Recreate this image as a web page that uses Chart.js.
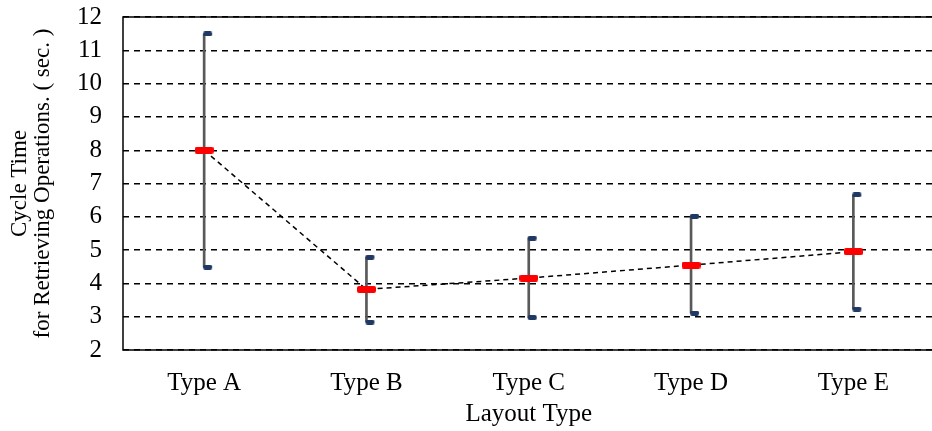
<!DOCTYPE html>
<html>
<head>
<meta charset="utf-8">
<script src="https://cdn.jsdelivr.net/npm/chart.js@4/dist/chart.umd.min.js"></script>
<style>
  html, body { margin: 0; padding: 0; background: #fff; overflow: hidden; }
  #wrap { width: 945px; height: 431px; position: relative; }
</style>
</head>
<body>
<div id="wrap"><canvas id="cycleChart"></canvas></div>
<script>
// layout types on the x axis
const categories = ['Type A', 'Type B', 'Type C', 'Type D', 'Type E'];
// average cycle time (sec.)
const meanVals = [8.0, 3.82, 4.16, 4.55, 4.95];
// lower / upper whisker ends
const minVals = [4.49, 2.84, 2.97, 3.11, 3.23];
const maxVals = [11.49, 4.79, 5.36, 6.02, 6.66];

const rangeVals = minVals.map((v, i) => [v, maxVals[i]]);

// marker images (cap sits to the right of the whisker)
function makeMarker(w, h, color, offsetRight) {
    const c = document.createElement('canvas');
    c.width = offsetRight ? w * 2 : w;
    c.height = h;
    const g = c.getContext('2d');
    g.fillStyle = color;
    const x0 = offsetRight ? w - 1 : 0;
    g.beginPath();
    g.roundRect(x0, 0, w, h, 2);
    g.fill();
    return c;
}
const meanMarker = makeMarker(19, 7, '#ff0000', false);
const capMarker = makeMarker(9, 5, '#1f3864', true);

// frame round the plot area
const frame = {
    id: 'frame',
    afterDatasetsDraw(chart) {
        const { ctx, chartArea: { left, top, right, bottom } } = chart;
        ctx.save();
        ctx.strokeStyle = '#000';
        ctx.lineWidth = 1.5;
        ctx.setLineDash([]);
        ctx.strokeRect(left, top, right - left, bottom - top);
        ctx.restore();
    }
};

const serif = 'Liberation Serif';

new Chart(document.getElementById('cycleChart'), {
    data: {
        labels: categories,
        datasets: [
            {
                type: 'line',
                label: 'mean',
                data: meanVals,
                borderColor: '#000',
                borderWidth: 1.5,
                borderDash: [5, 4],
                pointStyle: meanMarker,
                pointRadius: 9,
                order: 0
            },
            {
                type: 'line',
                label: 'max',
                data: maxVals,
                showLine: false,
                pointStyle: capMarker,
                pointRadius: 9,
                order: 1
            },
            {
                type: 'line',
                label: 'min',
                data: minVals,
                showLine: false,
                pointStyle: capMarker,
                pointRadius: 9,
                order: 1
            },
            {
                type: 'bar',
                label: 'range',
                data: rangeVals,
                backgroundColor: '#595959',
                barThickness: 2,
                order: 2
            }
        ]
    },
    options: {
        responsive: true,
        maintainAspectRatio: false,
        animation: false,
        layout: { padding: { top: 17, right: 2, left: 8, bottom: 2 } },
        plugins: {
            legend: { display: false },
            tooltip: { enabled: false }
        },
        scales: {
            x: {
                offset: true,
                grid: { display: false, drawTicks: false },
                border: { display: false },
                ticks: { color: '#000', font: { family: serif, size: 25 }, padding: 18 },
                title: {
                    display: true,
                    text: 'Layout Type',
                    color: '#000',
                    font: { family: serif, size: 25 },
                    padding: { top: 0, bottom: 0 }
                },
                afterFit(scale) { scale.height = 79; }
            },
            y: {
                min: 2,
                max: 12,
                grid: { color: '#000', lineWidth: 1.4, drawTicks: false },
                border: { display: false, dash: [6, 5] },
                ticks: { stepSize: 1, autoSkip: false, color: '#000', font: { family: serif, size: 25 }, padding: 21 },
                title: {
                    display: true,
                    text: ['Cycle Time', 'for Retrieving Operations. ( sec. )'],
                    color: '#000',
                    font: { family: serif, size: 23, lineHeight: 1.0 },
                    padding: { top: 0, bottom: 2 }
                },
                afterFit(scale) { scale.paddingTop = 0; scale.paddingBottom = 0; }
            }
        }
    },
    plugins: [frame]
});
</script>
</body>
</html>
